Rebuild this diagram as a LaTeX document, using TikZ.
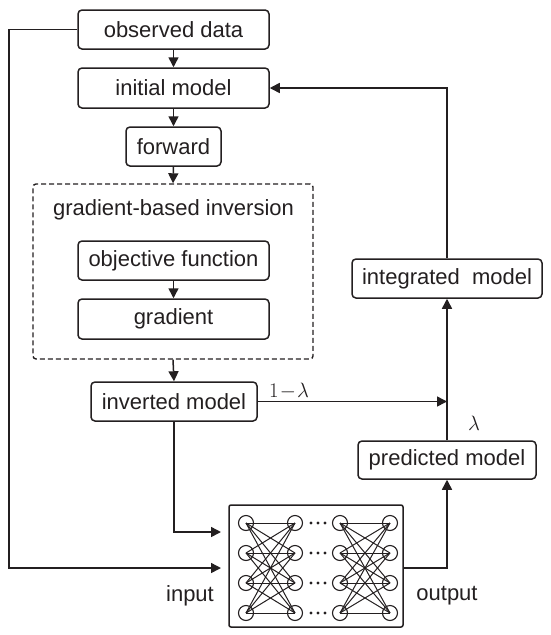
\documentclass[tikz,border=0pt]{standalone}
\usepackage{fontspec}
\setmainfont{Liberation Sans}
\usetikzlibrary{arrows.meta}
\definecolor{ink}{HTML}{231F20}
\begin{document}
\begin{tikzpicture}[x=1pt,y=-1pt,
  box/.style={draw=ink, rounded corners=4pt, line width=1.5pt, inner sep=0pt,
    font=\fontsize{22}{25}\selectfont, text=ink, minimum height=39pt, align=center},
  dbox/.style={draw=ink, line width=1.4pt, dash pattern=on 5pt off 3pt, rounded corners=3pt, inner sep=0pt},
  lbl/.style={font=\fontsize{22}{25}\selectfont, text=ink, inner sep=0pt},
  mlbl/.style={font=\fontsize{22}{25}\selectfont, text=ink, inner sep=0pt},
  conn/.style={draw=ink, line width=1.5pt},
  arr/.style={conn, -{Triangle[length=10pt,width=10pt]}},
  nnline/.style={draw=ink, line width=1pt},
  neuron/.style={circle, draw=ink, line width=1.1pt, minimum size=15pt, inner sep=0pt}
]
\useasboundingbox (0,0) rectangle (550,635);

% main column
\node[box, minimum width=191pt] (obs) at (173.5,29.5) {observed data};
\node[box, minimum width=191pt, minimum height=40pt] (init) at (173.5,88) {initial model};
\node[box, minimum width=95pt] (fwd) at (173.5,146.5) {forward};
\node[dbox, minimum width=280pt, minimum height=175pt] (gbi) at (173,271.5) {};
\node[lbl] (gbititle) at (173.5,210) {gradient-based inversion};
\node[box, minimum width=191pt] (obj) at (173.5,260.5) {objective function};
\node[box, minimum width=191pt, minimum height=40pt] (grad) at (173.5,319) {gradient};
\node[box, minimum width=166pt] (inv) at (174,401.5) {inverted model};

% right column
\node[box, minimum width=190pt] (integ) at (447,278.5) {integrated\hspace{0.55em}model};
\node[box, minimum width=178pt, minimum height=38pt] (pred) at (447,460) {predicted model};

% neural network
\node[draw=ink, line width=1.5pt, rounded corners=2pt, minimum width=174pt, minimum height=122pt, inner sep=0pt] (nn) at (316,566) {};
\foreach \c/\x in {1/246,2/295,3/340,4/390}{
  \foreach \r/\y in {1/523,2/553,3/583,4/613}{
    \node[neuron] (n-\c-\r) at (\x,\y) {};
  }
}
\foreach \a/\b in {1/2,3/4}{
  \foreach \i in {1,...,4}{
    \foreach \j in {1,...,4}{
      \draw[nnline] (n-\a-\i.center) -- (n-\b-\j.center);
    }
  }
}
\foreach \y in {523,553,583,613}{
  \foreach \x in {311,318,325}{
    \fill[ink] (\x,\y) circle (1.6pt);
  }
}

% coordinates
\coordinate (mix) at (447,401.5);
\coordinate (in1) at (221,532);
\coordinate (lft) at (9,568);
\coordinate (in2) at (221,568);
\coordinate (outs) at (403,568);

% connectors
\draw[arr] (obs.south) -- (init.north);
\draw[arr] (init.south) -- (fwd.north);
\draw[arr] (fwd.south) -- (gbi.north);
\draw[arr] (obj.south) -- (grad.north);
\draw[arr] (gbi.south) -- (inv.north);
\draw[arr] (inv.east) -- (mix);
\draw[arr] (pred.north) -- (integ.south);
\draw[arr] (integ.north) |- (init.east);
\draw[arr] (inv.south) |- (in1);
\draw[arr] (obs.west) -| (lft) -- (in2);
\draw[arr] (outs) -| (pred.south);

% labels
\node[mlbl] (oml) at (289,391) {$1\!-\!\lambda$};
\node[mlbl] (lam) at (474,423) {$\lambda$};
\node[lbl] (inl) at (190,596) {input};
\node[lbl] (outl) at (447,596) {output};
\end{tikzpicture}
\end{document}
